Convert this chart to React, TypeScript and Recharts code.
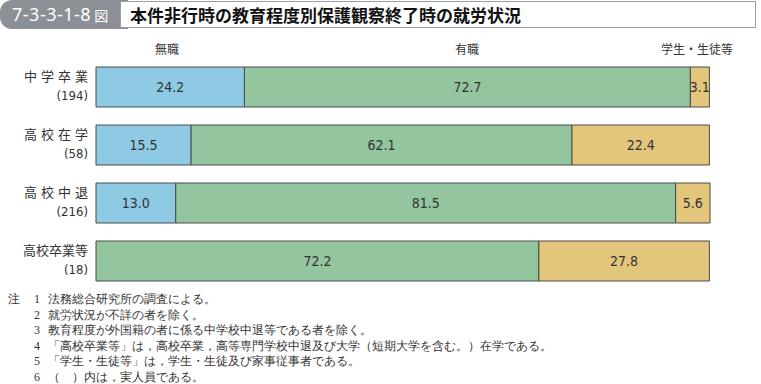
import { BarChart, Bar, XAxis, YAxis, LabelList } from "recharts";

const categories = ["中学卒業", "高校在学", "高校中退", "高校卒業等"];
const counts = [194, 58, 216, 18];
const spaced = [true, true, true, false];
const mushoku = [24.2, 15.5, 13.0, 0];
const yushoku = [72.7, 62.1, 81.5, 72.2];
const gakusei = [3.1, 22.4, 5.6, 27.8];

const notes = [
  "法務総合研究所の調査による。",
  "就労状況が不詳の者を除く。",
  "教育程度が外国籍の者に係る中学校中退等である者を除く。",
  "「高校卒業等」は，高校卒業，高等専門学校中退及び大学（短期大学を含む。）在学である。",
  "「学生・生徒等」は，学生・生徒及び家事従事者である。",
  "（　）内は，実人員である。",
];

const data = categories.map((name, i) => ({
  name,
  count: counts[i],
  spaced: spaced[i],
  mushoku: mushoku[i],
  yushoku: yushoku[i],
  gakusei: gakusei[i],
}));

const numFont = "'Liberation Sans Narrow', 'DejaVu Sans Condensed', sans-serif";
const jpFont = "'Noto Sans CJK JP', sans-serif";

const CategoryTick = (props: any) => {
  const { x, y, payload } = props;
  const row = data.find((d) => d.name === payload.value);
  return (
    <g>
      <text
        x={x}
        y={y - 6}
        textAnchor="end"
        fontSize={13}
        fill="#333"
        fontFamily={jpFont}
        letterSpacing={row && row.spaced ? 4 : 0}
        dx={row && row.spaced ? 4 : 0}
      >
        {payload.value}
      </text>
      <text x={x} y={y + 13} textAnchor="end" fontSize={13} fill="#333" fontFamily={numFont}>
        ({row ? row.count : ""})
      </text>
    </g>
  );
};

const fmt = (v: any) => (v ? Number(v).toFixed(1) : "");

const App = () => {
  return (
    <div style={{ position: "absolute", left: 0, top: 0, width: 761, height: 384, background: "#fff" }}>
      {/* header */}
      <div
        style={{
          position: "absolute",
          left: 0,
          top: 0,
          width: 128,
          height: 29,
          background: "#8a9096",
          borderRadius: "12px 0 0 12px",
          color: "#fff",
          fontFamily: "'Noto Sans', sans-serif",
          fontSize: 18,
          letterSpacing: 0.5,
          lineHeight: "29px",
          paddingLeft: 12,
          boxSizing: "border-box",
          whiteSpace: "nowrap",
        }}
      >
        7-3-3-1-8<span style={{ fontFamily: jpFont, fontSize: 14, marginLeft: 3, letterSpacing: 0 }}>図</span>
      </div>
      <div
        style={{
          position: "absolute",
          left: 120,
          top: 1,
          width: 636,
          height: 27,
          background: "#fff",
          border: "1px solid #9aa0a5",
          boxSizing: "border-box",
          fontFamily: jpFont,
          fontWeight: 700,
          fontSize: 17,
          lineHeight: "25px",
          paddingLeft: 9,
          color: "#111",
        }}
      >
        本件非行時の教育程度別保護観察終了時の就労状況
      </div>

      {/* series names */}
      <div style={{ position: "absolute", left: 155, top: 40, fontFamily: jpFont, fontSize: 12, color: "#333" }}>無職</div>
      <div style={{ position: "absolute", left: 455, top: 40, fontFamily: jpFont, fontSize: 12, color: "#333" }}>有職</div>
      <div style={{ position: "absolute", left: 661, top: 40, fontFamily: jpFont, fontSize: 12, color: "#333" }}>学生・生徒等</div>

      <div style={{ position: "absolute", left: 0, top: 0 }}>
        <BarChart
          width={761}
          height={384}
          data={data}
          layout="vertical"
          margin={{ top: 58, right: 51, bottom: 94, left: 0 }}
          barCategoryGap={9}
        >
          <XAxis type="number" domain={[0, 100]} hide />
          <YAxis
            type="category"
            dataKey="name"
            width={96}
            axisLine={false}
            tickLine={false}
            tickSize={0}
            tickMargin={8}
            tick={<CategoryTick />}
          />
          <Bar dataKey="mushoku" stackId="a" fill="#8ecae4" stroke="#4a4a4a" strokeWidth={1} isAnimationActive={false}>
            <LabelList dataKey="mushoku" position="center" formatter={fmt} fill="#333" fontSize={14} fontFamily={numFont} />
          </Bar>
          <Bar dataKey="yushoku" stackId="a" fill="#93c59f" stroke="#4a4a4a" strokeWidth={1} isAnimationActive={false}>
            <LabelList dataKey="yushoku" position="center" formatter={fmt} fill="#333" fontSize={14} fontFamily={numFont} />
          </Bar>
          <Bar dataKey="gakusei" stackId="a" fill="#e3c67c" stroke="#4a4a4a" strokeWidth={1} isAnimationActive={false}>
            <LabelList dataKey="gakusei" position="center" formatter={fmt} fill="#333" fontSize={14} fontFamily={numFont} />
          </Bar>
        </BarChart>
      </div>

      {/* notes */}
      <div
        style={{
          position: "absolute",
          left: 8,
          top: 292,
          fontFamily: "serif",
          fontSize: 12,
          lineHeight: "15.5px",
          color: "#333",
        }}
      >
        {notes.map((n, i) => (
          <div key={i} style={{ display: "flex", whiteSpace: "nowrap" }}>
            <span style={{ width: 26 }}>{i === 0 ? "注" : ""}</span>
            <span style={{ width: 14 }}>{i + 1}</span>
            <span>{n}</span>
          </div>
        ))}
      </div>
    </div>
  );
};

export default App;
